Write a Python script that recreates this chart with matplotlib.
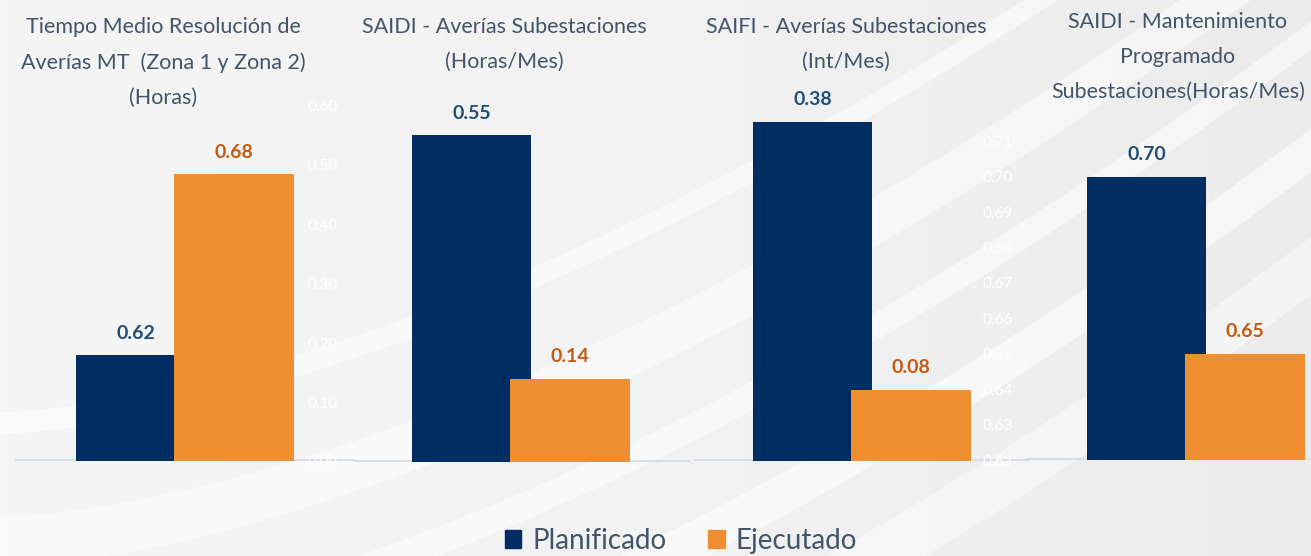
import numpy as np
import matplotlib
matplotlib.use("Agg")
import matplotlib.pyplot as plt
from matplotlib.patches import Patch

plt.rcParams['font.family'] = ['Lato', 'DejaVu Sans']

W, H = 1311, 556

# data
titles = [
    "Tiempo Medio Resolución de\nAverías MT  (Zona 1 y Zona 2)\n(Horas)",
    "SAIDI - Averías Subestaciones\n(Horas/Mes)",
    "SAIFI - Averías Subestaciones\n(Int/Mes)",
    "SAIDI - Mantenimiento\nProgramado\nSubestaciones(Horas/Mes)",
]
planificado = [0.62, 0.55, 0.38, 0.70]
ejecutado = [0.68, 0.14, 0.08, 0.65]
series_names = ["Planificado", "Ejecutado"]

# axis ranges of the four pasted charts
y_min = [0.585, 0.0, 0.0, 0.62]
y_scale = [3017, 594, 892, 3540]          # pixels per unit
tick_sets = [None, np.arange(0, 0.61, 0.1), None, np.arange(0.62, 0.715, 0.01)]

# layout (pixels)
ax_span = [(15, 354), (353, 690), (694, 1030), (1025, 1311)]
baseline = [461, 462, 461, 460]
dark_left = [76, 412, 753, 1087]
title_x = [163, 504, 846, 1178]
title_y = [25, 25, 25, 20]
bar_px = 119
top_px = 90

c_plan = "#002e62"
c_ejec = "#f08f31"
c_plan_lbl = "#1f4e79"
c_ejec_lbl = "#c55a11"
c_text = "#44546a"

fig = plt.figure(figsize=(W / 100, H / 100), dpi=100)
fig.patch.set_facecolor("#f3f3f3")

# background with soft white swooshes
bg = fig.add_axes([0, 0, 1, 1], zorder=-10)
grad = np.linspace(0, 1, 300)[None, :]
bg.imshow(grad, cmap=matplotlib.colors.LinearSegmentedColormap.from_list(
    "bg", ["#f5f5f5", "#f2f2f2", "#ebebeb"]), aspect="auto",
    extent=[0, 1, 0, 1], origin="lower")
t = np.linspace(0, 1, 200)
for off, thick, a in [(-0.35, 0.06, 0.6), (-0.15, 0.04, 0.55), (0.05, 0.07, 0.5),
                      (0.25, 0.03, 0.55), (-0.55, 0.08, 0.45)]:
    yc = off + 1.1 * t ** 1.6
    bg.fill_between(t, yc - thick, yc + thick * 0.3, color="white", alpha=a, lw=0)
bg.set_xlim(0, 1)
bg.set_ylim(0, 1)
bg.axis("off")

for i in range(4):
    x0, x1 = ax_span[i]
    base = baseline[i]
    ax = fig.add_axes([x0 / W, 1 - base / H, (x1 - x0) / W, (base - top_px) / H])
    ax.patch.set_alpha(0)
    ax.set_xlim((x0 - dark_left[i]) / bar_px - 0.5, (x1 - dark_left[i]) / bar_px - 0.5)
    ax.set_ylim(y_min[i], y_min[i] + (base - top_px) / y_scale[i])

    ax.axhline(y_min[i], color="#d6dde5", lw=3.5, zorder=0.5)
    ax.bar(0, planificado[i], width=1.0, color=c_plan, zorder=2)
    ax.bar(0.83, ejecutado[i], width=1.01, color=c_ejec, zorder=3)

    ax.annotate(f"{planificado[i]:.2f}", (0, planificado[i]), xytext=(0, 16),
                textcoords="offset points", ha="center", va="center",
                fontsize=14, fontweight="bold", color=c_plan_lbl)
    ax.annotate(f"{ejecutado[i]:.2f}", (0.83, ejecutado[i]), xytext=(0, 16),
                textcoords="offset points", ha="center", va="center",
                fontsize=14, fontweight="bold", color=c_ejec_lbl)

    for s in ax.spines.values():
        s.set_visible(False)
    ax.set_xticks([])
    if tick_sets[i] is not None:
        ax.set_yticks(tick_sets[i])
        ax.set_yticklabels([f"{v:.2f}" for v in tick_sets[i]])
        ax.tick_params(axis="y", length=0, pad=11 if i == 1 else 9,
                       labelsize=11, labelcolor="white")
    else:
        ax.set_yticks([])

    fig.text(title_x[i] / W, 1 - (title_y[i] - 8) / H, titles[i], ha="center",
             va="top", fontsize=15.5, color=c_text, linespacing=1.92)

handles = [Patch(color=c_plan), Patch(color=c_ejec)]
fig.legend(handles, series_names, loc="center", bbox_to_anchor=(681 / W, 1 - 541 / H),
           ncol=2, frameon=False, fontsize=20, handlelength=0.6, handleheight=0.6,
           handletextpad=0.4, columnspacing=1.5, labelcolor=c_text)

fig.savefig("out.png", dpi=100, facecolor=fig.get_facecolor())
